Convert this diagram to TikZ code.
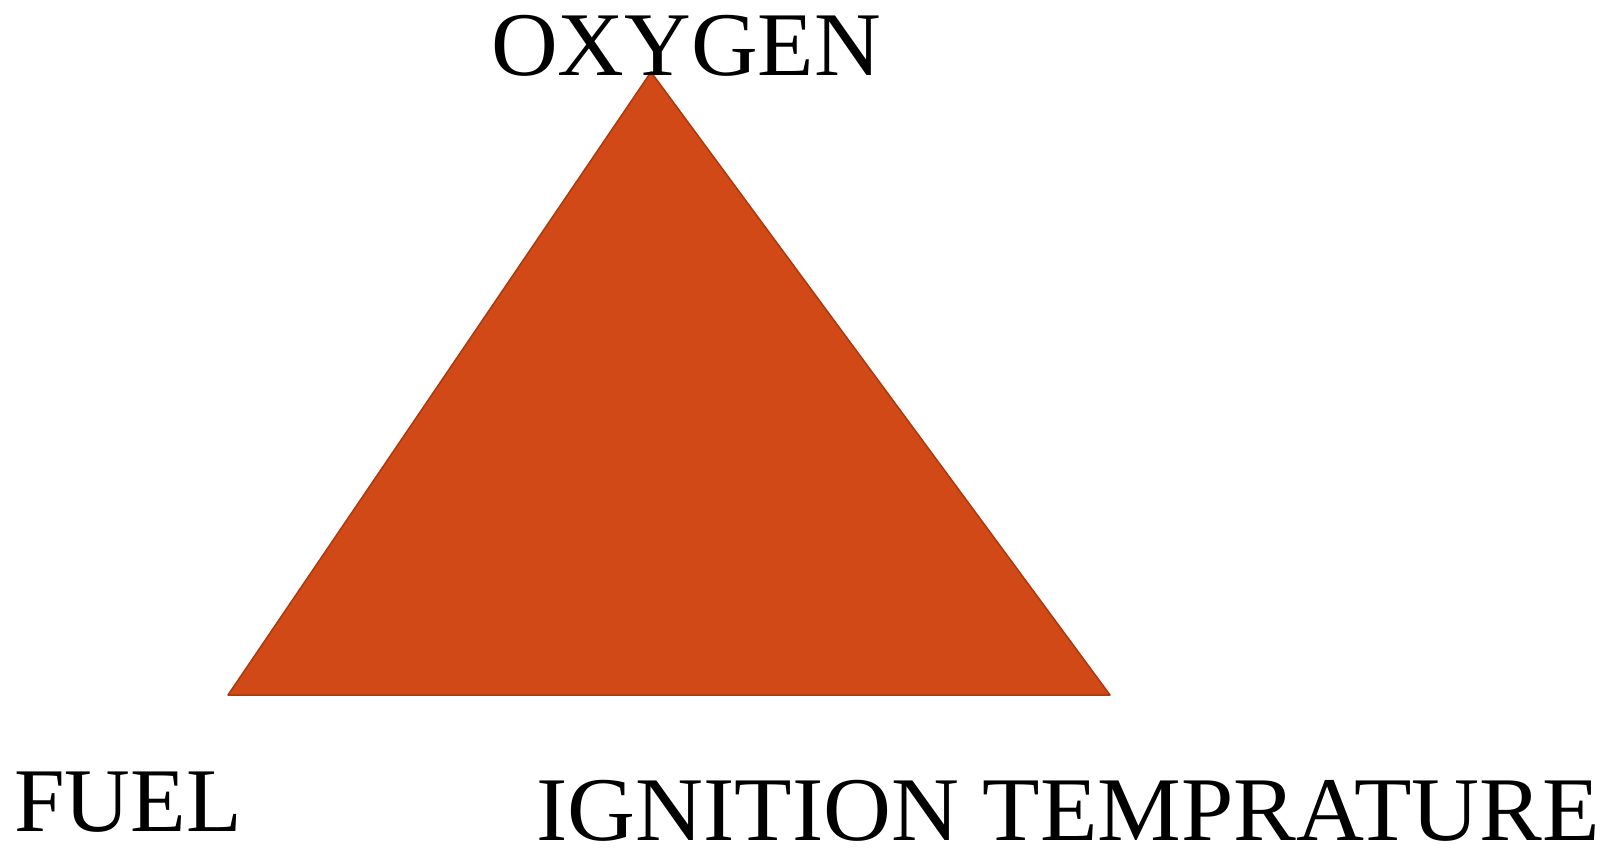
\documentclass[tikz,border=0pt]{standalone}
\usepackage{fontspec}
\setmainfont{Liberation Serif}
\definecolor{firefill}{HTML}{D04917}
\definecolor{fireedge}{HTML}{A83A10}
\begin{document}
\begin{tikzpicture}[x=1pt,y=1pt,
  lbl/.style={inner sep=0pt,font=\fontsize{91}{91}\selectfont,anchor=base west}]
\useasboundingbox (0,0) rectangle (1616,849);
\coordinate (top) at (651,777);
\coordinate (bl) at (228,154);
\coordinate (br) at (1110,154);
\filldraw[fill=firefill,draw=fireedge,line width=1.5pt,line join=round] (top) -- (bl) -- (br) -- cycle;
\node[lbl] (oxygen) at (491,773) {\scalebox{1.015}[1]{OXYGEN}};
\node[lbl] (fuel) at (14,18) {FUEL};
\node[lbl] (ignition) at (536,9) {\scalebox{1.034}[1]{IGNITION TEMPRATURE}};
\end{tikzpicture}
\end{document}
